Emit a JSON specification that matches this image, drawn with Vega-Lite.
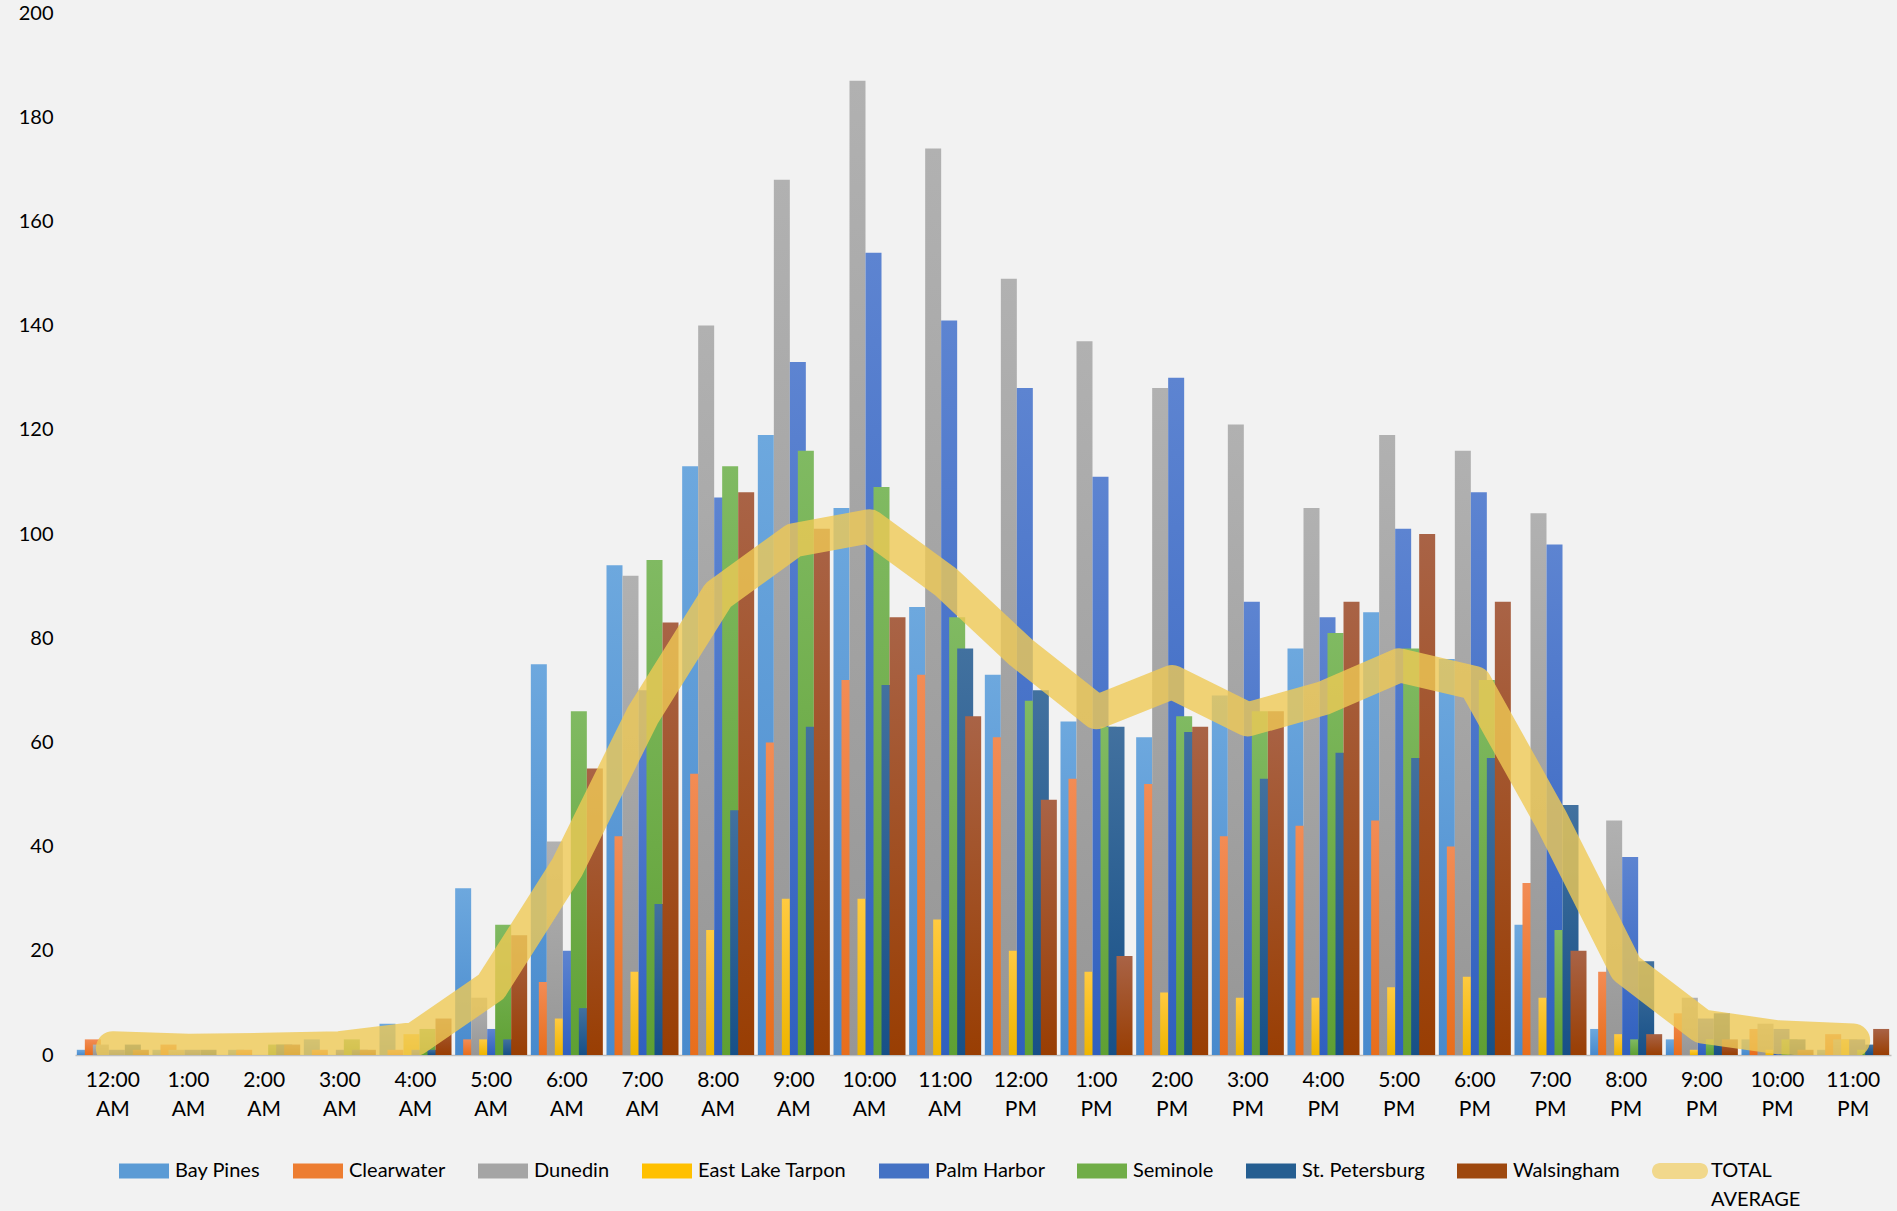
{
  "$schema": "https://vega.github.io/schema/vega-lite/v6.json",
  "width": 1816,
  "height": 1042,
  "autosize": {"type": "none"},
  "padding": {"left": 75, "top": 13, "right": 6, "bottom": 156},
  "background": "#f2f2f2",
  "config": {
    "view": {"stroke": null},
    "font": "Lato",
    "axis": {"labelFont": "Lato", "labelColor": "#000000", "titleColor": "#000000"},
    "legend": {"labelFont": "Lato", "labelColor": "#000000"}
  },
  "datasets": {
    "bars": [
      {"h":"12:00 AM","s":"Bay Pines","v":1},{"h":"12:00 AM","s":"Clearwater","v":3},{"h":"12:00 AM","s":"Dunedin","v":2},{"h":"12:00 AM","s":"East Lake Tarpon","v":0},{"h":"12:00 AM","s":"Palm Harbor","v":1},{"h":"12:00 AM","s":"Seminole","v":0},{"h":"12:00 AM","s":"St. Petersburg","v":2},{"h":"12:00 AM","s":"Walsingham","v":1},
      {"h":"1:00 AM","s":"Bay Pines","v":1},{"h":"1:00 AM","s":"Clearwater","v":2},{"h":"1:00 AM","s":"Dunedin","v":1},{"h":"1:00 AM","s":"East Lake Tarpon","v":0},{"h":"1:00 AM","s":"Palm Harbor","v":1},{"h":"1:00 AM","s":"Seminole","v":0},{"h":"1:00 AM","s":"St. Petersburg","v":1},{"h":"1:00 AM","s":"Walsingham","v":0},
      {"h":"2:00 AM","s":"Bay Pines","v":1},{"h":"2:00 AM","s":"Clearwater","v":1},{"h":"2:00 AM","s":"Dunedin","v":0},{"h":"2:00 AM","s":"East Lake Tarpon","v":0},{"h":"2:00 AM","s":"Palm Harbor","v":0},{"h":"2:00 AM","s":"Seminole","v":2},{"h":"2:00 AM","s":"St. Petersburg","v":2},{"h":"2:00 AM","s":"Walsingham","v":2},
      {"h":"3:00 AM","s":"Bay Pines","v":3},{"h":"3:00 AM","s":"Clearwater","v":1},{"h":"3:00 AM","s":"Dunedin","v":0},{"h":"3:00 AM","s":"East Lake Tarpon","v":0},{"h":"3:00 AM","s":"Palm Harbor","v":1},{"h":"3:00 AM","s":"Seminole","v":3},{"h":"3:00 AM","s":"St. Petersburg","v":1},{"h":"3:00 AM","s":"Walsingham","v":1},
      {"h":"4:00 AM","s":"Bay Pines","v":6},{"h":"4:00 AM","s":"Clearwater","v":1},{"h":"4:00 AM","s":"Dunedin","v":0},{"h":"4:00 AM","s":"East Lake Tarpon","v":4},{"h":"4:00 AM","s":"Palm Harbor","v":1},{"h":"4:00 AM","s":"Seminole","v":5},{"h":"4:00 AM","s":"St. Petersburg","v":1},{"h":"4:00 AM","s":"Walsingham","v":7},
      {"h":"5:00 AM","s":"Bay Pines","v":32},{"h":"5:00 AM","s":"Clearwater","v":3},{"h":"5:00 AM","s":"Dunedin","v":11},{"h":"5:00 AM","s":"East Lake Tarpon","v":3},{"h":"5:00 AM","s":"Palm Harbor","v":5},{"h":"5:00 AM","s":"Seminole","v":25},{"h":"5:00 AM","s":"St. Petersburg","v":3},{"h":"5:00 AM","s":"Walsingham","v":23},
      {"h":"6:00 AM","s":"Bay Pines","v":75},{"h":"6:00 AM","s":"Clearwater","v":14},{"h":"6:00 AM","s":"Dunedin","v":41},{"h":"6:00 AM","s":"East Lake Tarpon","v":7},{"h":"6:00 AM","s":"Palm Harbor","v":20},{"h":"6:00 AM","s":"Seminole","v":66},{"h":"6:00 AM","s":"St. Petersburg","v":9},{"h":"6:00 AM","s":"Walsingham","v":55},
      {"h":"7:00 AM","s":"Bay Pines","v":94},{"h":"7:00 AM","s":"Clearwater","v":42},{"h":"7:00 AM","s":"Dunedin","v":92},{"h":"7:00 AM","s":"East Lake Tarpon","v":16},{"h":"7:00 AM","s":"Palm Harbor","v":70},{"h":"7:00 AM","s":"Seminole","v":95},{"h":"7:00 AM","s":"St. Petersburg","v":29},{"h":"7:00 AM","s":"Walsingham","v":83},
      {"h":"8:00 AM","s":"Bay Pines","v":113},{"h":"8:00 AM","s":"Clearwater","v":54},{"h":"8:00 AM","s":"Dunedin","v":140},{"h":"8:00 AM","s":"East Lake Tarpon","v":24},{"h":"8:00 AM","s":"Palm Harbor","v":107},{"h":"8:00 AM","s":"Seminole","v":113},{"h":"8:00 AM","s":"St. Petersburg","v":47},{"h":"8:00 AM","s":"Walsingham","v":108},
      {"h":"9:00 AM","s":"Bay Pines","v":119},{"h":"9:00 AM","s":"Clearwater","v":60},{"h":"9:00 AM","s":"Dunedin","v":168},{"h":"9:00 AM","s":"East Lake Tarpon","v":30},{"h":"9:00 AM","s":"Palm Harbor","v":133},{"h":"9:00 AM","s":"Seminole","v":116},{"h":"9:00 AM","s":"St. Petersburg","v":63},{"h":"9:00 AM","s":"Walsingham","v":101},
      {"h":"10:00 AM","s":"Bay Pines","v":105},{"h":"10:00 AM","s":"Clearwater","v":72},{"h":"10:00 AM","s":"Dunedin","v":187},{"h":"10:00 AM","s":"East Lake Tarpon","v":30},{"h":"10:00 AM","s":"Palm Harbor","v":154},{"h":"10:00 AM","s":"Seminole","v":109},{"h":"10:00 AM","s":"St. Petersburg","v":71},{"h":"10:00 AM","s":"Walsingham","v":84},
      {"h":"11:00 AM","s":"Bay Pines","v":86},{"h":"11:00 AM","s":"Clearwater","v":73},{"h":"11:00 AM","s":"Dunedin","v":174},{"h":"11:00 AM","s":"East Lake Tarpon","v":26},{"h":"11:00 AM","s":"Palm Harbor","v":141},{"h":"11:00 AM","s":"Seminole","v":84},{"h":"11:00 AM","s":"St. Petersburg","v":78},{"h":"11:00 AM","s":"Walsingham","v":65},
      {"h":"12:00 PM","s":"Bay Pines","v":73},{"h":"12:00 PM","s":"Clearwater","v":61},{"h":"12:00 PM","s":"Dunedin","v":149},{"h":"12:00 PM","s":"East Lake Tarpon","v":20},{"h":"12:00 PM","s":"Palm Harbor","v":128},{"h":"12:00 PM","s":"Seminole","v":68},{"h":"12:00 PM","s":"St. Petersburg","v":70},{"h":"12:00 PM","s":"Walsingham","v":49},
      {"h":"1:00 PM","s":"Bay Pines","v":64},{"h":"1:00 PM","s":"Clearwater","v":53},{"h":"1:00 PM","s":"Dunedin","v":137},{"h":"1:00 PM","s":"East Lake Tarpon","v":16},{"h":"1:00 PM","s":"Palm Harbor","v":111},{"h":"1:00 PM","s":"Seminole","v":63},{"h":"1:00 PM","s":"St. Petersburg","v":63},{"h":"1:00 PM","s":"Walsingham","v":19},
      {"h":"2:00 PM","s":"Bay Pines","v":61},{"h":"2:00 PM","s":"Clearwater","v":52},{"h":"2:00 PM","s":"Dunedin","v":128},{"h":"2:00 PM","s":"East Lake Tarpon","v":12},{"h":"2:00 PM","s":"Palm Harbor","v":130},{"h":"2:00 PM","s":"Seminole","v":65},{"h":"2:00 PM","s":"St. Petersburg","v":62},{"h":"2:00 PM","s":"Walsingham","v":63},
      {"h":"3:00 PM","s":"Bay Pines","v":69},{"h":"3:00 PM","s":"Clearwater","v":42},{"h":"3:00 PM","s":"Dunedin","v":121},{"h":"3:00 PM","s":"East Lake Tarpon","v":11},{"h":"3:00 PM","s":"Palm Harbor","v":87},{"h":"3:00 PM","s":"Seminole","v":66},{"h":"3:00 PM","s":"St. Petersburg","v":53},{"h":"3:00 PM","s":"Walsingham","v":66},
      {"h":"4:00 PM","s":"Bay Pines","v":78},{"h":"4:00 PM","s":"Clearwater","v":44},{"h":"4:00 PM","s":"Dunedin","v":105},{"h":"4:00 PM","s":"East Lake Tarpon","v":11},{"h":"4:00 PM","s":"Palm Harbor","v":84},{"h":"4:00 PM","s":"Seminole","v":81},{"h":"4:00 PM","s":"St. Petersburg","v":58},{"h":"4:00 PM","s":"Walsingham","v":87},
      {"h":"5:00 PM","s":"Bay Pines","v":85},{"h":"5:00 PM","s":"Clearwater","v":45},{"h":"5:00 PM","s":"Dunedin","v":119},{"h":"5:00 PM","s":"East Lake Tarpon","v":13},{"h":"5:00 PM","s":"Palm Harbor","v":101},{"h":"5:00 PM","s":"Seminole","v":78},{"h":"5:00 PM","s":"St. Petersburg","v":57},{"h":"5:00 PM","s":"Walsingham","v":100},
      {"h":"6:00 PM","s":"Bay Pines","v":76},{"h":"6:00 PM","s":"Clearwater","v":40},{"h":"6:00 PM","s":"Dunedin","v":116},{"h":"6:00 PM","s":"East Lake Tarpon","v":15},{"h":"6:00 PM","s":"Palm Harbor","v":108},{"h":"6:00 PM","s":"Seminole","v":72},{"h":"6:00 PM","s":"St. Petersburg","v":57},{"h":"6:00 PM","s":"Walsingham","v":87},
      {"h":"7:00 PM","s":"Bay Pines","v":25},{"h":"7:00 PM","s":"Clearwater","v":33},{"h":"7:00 PM","s":"Dunedin","v":104},{"h":"7:00 PM","s":"East Lake Tarpon","v":11},{"h":"7:00 PM","s":"Palm Harbor","v":98},{"h":"7:00 PM","s":"Seminole","v":24},{"h":"7:00 PM","s":"St. Petersburg","v":48},{"h":"7:00 PM","s":"Walsingham","v":20},
      {"h":"8:00 PM","s":"Bay Pines","v":5},{"h":"8:00 PM","s":"Clearwater","v":16},{"h":"8:00 PM","s":"Dunedin","v":45},{"h":"8:00 PM","s":"East Lake Tarpon","v":4},{"h":"8:00 PM","s":"Palm Harbor","v":38},{"h":"8:00 PM","s":"Seminole","v":3},{"h":"8:00 PM","s":"St. Petersburg","v":18},{"h":"8:00 PM","s":"Walsingham","v":4},
      {"h":"9:00 PM","s":"Bay Pines","v":3},{"h":"9:00 PM","s":"Clearwater","v":8},{"h":"9:00 PM","s":"Dunedin","v":11},{"h":"9:00 PM","s":"East Lake Tarpon","v":1},{"h":"9:00 PM","s":"Palm Harbor","v":7},{"h":"9:00 PM","s":"Seminole","v":3},{"h":"9:00 PM","s":"St. Petersburg","v":8},{"h":"9:00 PM","s":"Walsingham","v":3},
      {"h":"10:00 PM","s":"Bay Pines","v":3},{"h":"10:00 PM","s":"Clearwater","v":5},{"h":"10:00 PM","s":"Dunedin","v":6},{"h":"10:00 PM","s":"East Lake Tarpon","v":1},{"h":"10:00 PM","s":"Palm Harbor","v":5},{"h":"10:00 PM","s":"Seminole","v":3},{"h":"10:00 PM","s":"St. Petersburg","v":3},{"h":"10:00 PM","s":"Walsingham","v":1},
      {"h":"11:00 PM","s":"Bay Pines","v":1},{"h":"11:00 PM","s":"Clearwater","v":4},{"h":"11:00 PM","s":"Dunedin","v":3},{"h":"11:00 PM","s":"East Lake Tarpon","v":3},{"h":"11:00 PM","s":"Palm Harbor","v":3},{"h":"11:00 PM","s":"Seminole","v":1},{"h":"11:00 PM","s":"St. Petersburg","v":2},{"h":"11:00 PM","s":"Walsingham","v":5}
    ],
    "avg": [
      {"h":"12:00 AM","a":1.3},{"h":"1:00 AM","a":0.8},{"h":"2:00 AM","a":1.0},{"h":"3:00 AM","a":1.3},{"h":"4:00 AM","a":3.1},{"h":"5:00 AM","a":13.1},
      {"h":"6:00 AM","a":35.9},{"h":"7:00 AM","a":65.1},{"h":"8:00 AM","a":88.3},{"h":"9:00 AM","a":98.8},{"h":"10:00 AM","a":101.5},{"h":"11:00 AM","a":90.9},
      {"h":"12:00 PM","a":77.3},{"h":"1:00 PM","a":65.8},{"h":"2:00 PM","a":71.6},{"h":"3:00 PM","a":64.4},{"h":"4:00 PM","a":68.5},{"h":"5:00 PM","a":74.8},
      {"h":"6:00 PM","a":71.4},{"h":"7:00 PM","a":45.4},{"h":"8:00 PM","a":16.6},{"h":"9:00 PM","a":5.5},{"h":"10:00 PM","a":3.4},{"h":"11:00 PM","a":2.8}
    ]
  },
  "encoding": {
    "x": {
      "field": "h", "type": "nominal", "title": null,
      "scale": {"domain": ["12:00 AM","1:00 AM","2:00 AM","3:00 AM","4:00 AM","5:00 AM","6:00 AM","7:00 AM","8:00 AM","9:00 AM","10:00 AM","11:00 AM","12:00 PM","1:00 PM","2:00 PM","3:00 PM","4:00 PM","5:00 PM","6:00 PM","7:00 PM","8:00 PM","9:00 PM","10:00 PM","11:00 PM"], "paddingInner": 0.154, "paddingOuter": 0.077},
      "axis": {"labelExpr": "split(datum.label, ' ')", "labelAngle": 0, "labelFontSize": 21, "labelLineHeight": 29, "labelPadding": 14, "ticks": false, "domainColor": "#bfbfbf", "domainWidth": 1.5, "grid": false}
    }
  },
  "layer": [
    {
      "data": {"name": "bars"},
      "transform": [{"filter": "false"}],
      "mark": {"type": "bar", "width": 16},
      "encoding": {
        "y": {"field": "v", "type": "quantitative"},
        "color": {
          "field": "s", "type": "nominal",
          "scale": {"domain": ["Bay Pines","Clearwater","Dunedin","East Lake Tarpon","Palm Harbor","Seminole","St. Petersburg","Walsingham","TOTAL AVERAGE"], "range": ["#5B9BD5","#ED7D31","#A5A5A5","#FFC000","#4472C4","#70AD47","#255E91","#9E480E","#EFC955"]},
          "legend": {
            "title": null, "orient": "none", "legendX": 44, "legendY": 1133, "direction": "horizontal", "columns": 9,
            "symbolSize": 2500, "symbolType": "M-1,-0.3H1V0.3H-1Z", "symbolStrokeWidth": 0,
            "labelFontSize": 20, "labelOffset": 6, "columnPadding": 32, "labelLimit": 300,
            "encode": {
              "symbols": {"update": {
                "shape": {"signal": "datum.value === 'TOTAL AVERAGE' ? 'M-0.8,-0.32H0.8A0.32,0.32 0 0 1 0.8,0.32H-0.8A0.32,0.32 0 0 1 -0.8,-0.32Z' : 'M-1,-0.3H1V0.3H-1Z'"},
                "fill": {"scale": "color", "field": "value"},
                "fillOpacity": {"signal": "datum.value === 'TOTAL AVERAGE' ? 0.65 : 1"},
                "strokeWidth": {"value": 0},
                "opacity": {"value": 1}
              }},
              "labels": {"update": {
                "text": {"signal": "datum.value === 'TOTAL AVERAGE' ? ['TOTAL', 'AVERAGE'] : [datum.label, ' ']"},
                "lineHeight": {"value": 29},
                "baseline": {"value": "top"},
                "dy": {"value": -10}
              }}
            }
          }
        }
      }
    },
    {
      "data": {"name": "bars"},
      "encoding": {
        "xOffset": {
          "field": "s", "type": "nominal",
          "scale": {"domain": ["Bay Pines","Clearwater","Dunedin","East Lake Tarpon","Palm Harbor","Seminole","St. Petersburg","Walsingham"], "paddingInner": 0, "paddingOuter": 0}
        },
        "y": {
          "field": "v", "type": "quantitative", "title": null,
          "scale": {"domain": [0, 200], "nice": false},
          "axis": {"values": [0,20,40,60,80,100,120,140,160,180,200], "domain": false, "ticks": false, "grid": false, "labelFontSize": 20, "labelPadding": 22}
        }
      },
      "layer": [
        {"transform": [{"filter": "datum.s === 'Bay Pines'"}], "mark": {"type": "bar", "width": 16, "color": {"gradient": "linear", "x1": 0, "y1": 0, "x2": 0, "y2": 1, "stops": [{"offset": 0, "color": "#6DA8DE"}, {"offset": 1, "color": "#488ACD"}]}}},
        {"transform": [{"filter": "datum.s === 'Clearwater'"}], "mark": {"type": "bar", "width": 16, "color": {"gradient": "linear", "x1": 0, "y1": 0, "x2": 0, "y2": 1, "stops": [{"offset": 0, "color": "#F28C55"}, {"offset": 1, "color": "#E86E1C"}]}}},
        {"transform": [{"filter": "datum.s === 'Dunedin'"}], "mark": {"type": "bar", "width": 16, "color": {"gradient": "linear", "x1": 0, "y1": 0, "x2": 0, "y2": 1, "stops": [{"offset": 0, "color": "#B1B1B1"}, {"offset": 1, "color": "#969696"}]}}},
        {"transform": [{"filter": "datum.s === 'East Lake Tarpon'"}], "mark": {"type": "bar", "width": 16, "color": {"gradient": "linear", "x1": 0, "y1": 0, "x2": 0, "y2": 1, "stops": [{"offset": 0, "color": "#FFCA40"}, {"offset": 1, "color": "#EFB500"}]}}},
        {"transform": [{"filter": "datum.s === 'Palm Harbor'"}], "mark": {"type": "bar", "width": 16, "color": {"gradient": "linear", "x1": 0, "y1": 0, "x2": 0, "y2": 1, "stops": [{"offset": 0, "color": "#5D84D1"}, {"offset": 1, "color": "#3060BF"}]}}},
        {"transform": [{"filter": "datum.s === 'Seminole'"}], "mark": {"type": "bar", "width": 16, "color": {"gradient": "linear", "x1": 0, "y1": 0, "x2": 0, "y2": 1, "stops": [{"offset": 0, "color": "#80BA62"}, {"offset": 1, "color": "#5FA033"}]}}},
        {"transform": [{"filter": "datum.s === 'St. Petersburg'"}], "mark": {"type": "bar", "width": 16, "color": {"gradient": "linear", "x1": 0, "y1": 0, "x2": 0, "y2": 1, "stops": [{"offset": 0, "color": "#42719F"}, {"offset": 1, "color": "#175087"}]}}},
        {"transform": [{"filter": "datum.s === 'Walsingham'"}], "mark": {"type": "bar", "width": 16, "color": {"gradient": "linear", "x1": 0, "y1": 0, "x2": 0, "y2": 1, "stops": [{"offset": 0, "color": "#A96346"}, {"offset": 1, "color": "#993E03"}]}}}
      ]
    },
    {
      "data": {"name": "avg"},
      "mark": {"type": "line", "strokeWidth": 34, "strokeCap": "round", "strokeJoin": "round", "opacity": 0.8, "clip": true},
      "encoding": {
        "y": {"field": "a", "type": "quantitative"},
        "color": {"datum": "TOTAL AVERAGE"}
      }
    }
  ]
}
